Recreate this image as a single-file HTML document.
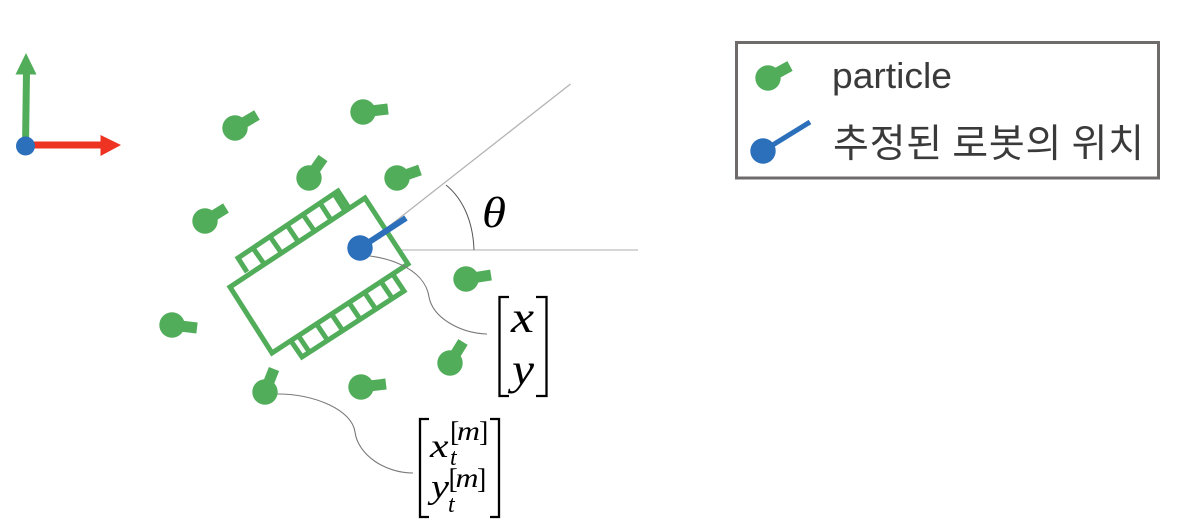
<!DOCTYPE html>
<html>
<head>
<meta charset="utf-8">
<style>
html,body{margin:0;padding:0;background:#fff;width:1190px;height:532px;overflow:hidden}
svg{display:block}
.m{font-family:"Liberation Serif",serif;font-style:italic;fill:#000}
.b{font-family:"Liberation Serif",serif;fill:#000}
.l{font-family:"Liberation Sans",sans-serif;fill:#3a3a3a}
.k{font-family:"Noto Sans CJK KR","Liberation Sans",sans-serif;fill:#3a3a3a}
</style>
</head>
<body>
<svg width="1190" height="532" viewBox="0 0 1190 532" xmlns="http://www.w3.org/2000/svg">
<rect width="1190" height="532" fill="#fff"/>

<!-- axes -->
<path d="M25.500 146L26.500 72" stroke="#52ad5b" stroke-width="7" fill="none"/>
<polygon points="26,53 36.500,74.500 15.500,74.500" fill="#52ad5b"/>
<path d="M25 145H102" stroke="#ee3322" stroke-width="7" fill="none"/>
<polygon points="121,145 100.500,135 100.500,156" fill="#ee3322"/>
<circle cx="25.500" cy="146" r="9.500" fill="#2c6fba"/>

<!-- angle lines -->
<path d="M360 249L570.500 84" stroke="#b3b3b3" stroke-width="1.300" fill="none"/>
<path d="M360 250H638" stroke="#d0d0d0" stroke-width="1.800" fill="none"/>
<path d="M446 185C462 198 473 220 474 250" stroke="#555" stroke-width="1" fill="none"/>
<text class="m" x="482" y="227" font-size="43" textLength="24" lengthAdjust="spacingAndGlyphs">θ</text>

<!-- robot -->
<g fill="none" stroke="#52ad5b" stroke-width="5">
<polygon points="365,198 408,264 272,353 230,287" fill="#fff"/>
<path d="M247,272L238,258L338,191L349,208"/>
<path d="M253,248L264.500,264.500M270,236.500L281.400,253M287,225L298.400,242M303,214.500L314.400,231M320,203L331,220M334,193.700L345,211"/>
<path d="M393,274.500L404,291L302,357L291,341"/>
<path d="M381,281.600L392,298M364,291.600L375,308M349,302.600L360,319M332,314.700L343,331M317,324.600L328,341M299,336.600L310,353"/>
</g>

<!-- connectors -->
<g fill="none" stroke="#7a7a7a" stroke-width="1.100">
<path d="M350 255C385 254 425 268 429 297C433 318 460 333 487 334"/>
<path d="M277 394C315 394 352 410 355 432C358 455 385 473 413 473"/>
</g>

<!-- particles -->
<g fill="#52ad5b" stroke="#52ad5b">
<circle cx="235" cy="128" r="12.700" stroke="none"/><path d="M235 128L257 115" stroke-width="11"/>
<circle cx="363" cy="112" r="12.700" stroke="none"/><path d="M363 112L388 109" stroke-width="11"/>
<circle cx="309" cy="178" r="12.700" stroke="none"/><path d="M309 178L323 158" stroke-width="11"/>
<circle cx="397" cy="178" r="12.700" stroke="none"/><path d="M397 178L420 170" stroke-width="11"/>
<circle cx="205" cy="221" r="12.700" stroke="none"/><path d="M205 221L226 208" stroke-width="11"/>
<circle cx="466" cy="279" r="12.700" stroke="none"/><path d="M466 279L491 275" stroke-width="11"/>
<circle cx="172" cy="325" r="12.700" stroke="none"/><path d="M172 325L197 328" stroke-width="11"/>
<circle cx="450" cy="363" r="12.700" stroke="none"/><path d="M450 363L463 342" stroke-width="11"/>
<circle cx="361" cy="387" r="12.700" stroke="none"/><path d="M361 387L386 384" stroke-width="11"/>
<circle cx="265" cy="392" r="12.700" stroke="none"/><path d="M265 392L274 369" stroke-width="11"/>
</g>

<!-- estimated pose -->
<circle cx="360" cy="248" r="12.700" fill="#2c6fba"/>
<path d="M360 248L406 218" stroke="#2c6fba" stroke-width="6" fill="none"/>

<!-- brackets -->
<g fill="none" stroke="#000" stroke-width="2.300">
<path d="M509 297H499.500V396H509"/>
<path d="M536 297H546.500V396H536"/>
<path d="M429 419H420V517H429"/>
<path d="M490 419H499V517H490"/>
</g>

<!-- matrix 1 -->
<text class="m" x="511" y="332" font-size="44" textLength="23" lengthAdjust="spacingAndGlyphs">x</text>
<text class="m" x="512" y="384" font-size="44" textLength="22" lengthAdjust="spacingAndGlyphs">y</text>

<!-- matrix 2 -->
<text class="m" x="430" y="457" font-size="34" textLength="18.500" lengthAdjust="spacingAndGlyphs">x</text>
<text class="m" x="450" y="465" font-size="24">t</text>
<text class="b" x="450" y="441" font-size="28">[</text>
<text class="m" x="457" y="440" font-size="27" textLength="23" lengthAdjust="spacingAndGlyphs">m</text>
<text class="b" x="479" y="441" font-size="28">]</text>
<text class="m" x="431" y="498" font-size="34" textLength="18" lengthAdjust="spacingAndGlyphs">y</text>
<text class="m" x="448" y="512" font-size="24">t</text>
<text class="b" x="448.500" y="488" font-size="28">[</text>
<text class="m" x="455.500" y="487" font-size="27" textLength="23" lengthAdjust="spacingAndGlyphs">m</text>
<text class="b" x="477" y="488" font-size="28">]</text>

<!-- legend -->
<rect x="736.500" y="42.500" width="422" height="135.500" fill="none" stroke="#6f6b6b" stroke-width="3"/>
<circle cx="768" cy="78" r="12.700" fill="#52ad5b"/>
<path d="M768 78L790 66" stroke="#52ad5b" stroke-width="11" fill="none"/>
<circle cx="763" cy="151" r="12.700" fill="#2c6fba"/>
<path d="M763 151L810 122" stroke="#2c6fba" stroke-width="5" fill="none"/>
<text class="l" x="832" y="88" font-size="36.500" textLength="120" lengthAdjust="spacingAndGlyphs">particle</text>
<text class="k" x="833" y="157" font-size="39" textLength="311" lengthAdjust="spacing">추정된 로봇의 위치</text>
</svg>
</body>
</html>
